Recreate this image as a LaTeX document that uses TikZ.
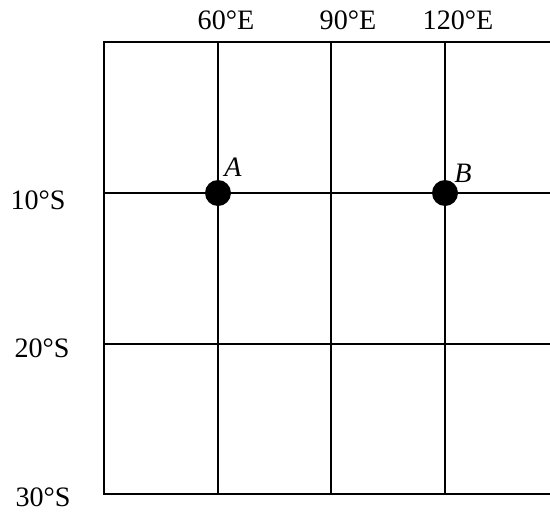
\documentclass[tikz,border=0pt]{standalone}
\usepackage{fontspec}
\setmainfont{Liberation Serif}
\usepackage{tikz}
\usetikzlibrary{positioning}
\tikzset{
    gridline/.style={line width=1.4pt,black},
    spot/.style={circle,fill=black,minimum size=0.52cm,inner sep=0pt},
    deg/.style={font=\fontsize{16}{18}\selectfont,inner sep=0pt},
    ptlabel/.style={font=\fontsize{16}{18}\selectfont\itshape,inner sep=0pt},
}

\begin{document}
\begin{tikzpicture}[x=0.02cm,y=-0.02cm]
\useasboundingbox (0,0) rectangle (550,514);
% frame and grid
\coordinate (TL) at (104,42);
\coordinate (BL) at (104,494);
\coordinate (TR) at (550,42);
\coordinate (BR) at (550,494);
\draw[gridline] (TR) -- (TL) -- (BL) -- (BR);
\foreach \x in {218,331,445}
  \draw[gridline] (\x,42) -- (\x,494);
\foreach \y in {193,344}
  \draw[gridline] (104,\y) -- (550,\y);

% longitude labels
\node[deg] (lon60)  at (226,20) {60°E};
\node[deg] (lon90)  at (348,20) {90°E};
\node[deg] (lon120) at (458,20) {120°E};

% latitude labels
\node[deg] (lat10) at (38,200) {10°S};
\node[deg] (lat20) at (42,348) {20°S};
\node[deg] (lat30) at (43,497) {30°S};

% points
\node[spot] (A) at (218,193) {};
\node[spot] (B) at (445,193) {};
\node[ptlabel] (labA) at (233,167) {A};
\node[ptlabel] (labB) at (463,173) {B};
\end{tikzpicture}
\end{document}
